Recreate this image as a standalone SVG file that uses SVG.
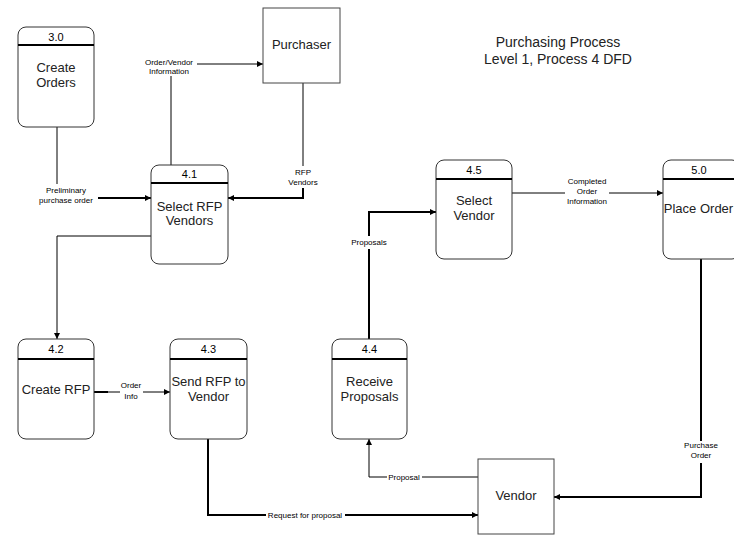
<svg xmlns="http://www.w3.org/2000/svg" width="734" height="535" viewBox="0 0 734 535">
  <style>
    .proc { fill: #ffffff; stroke: #333333; stroke-width: 1; }
    .ext { fill: #ffffff; stroke: #444444; stroke-width: 1; }
    .div { stroke: #000000; stroke-width: 2; }
    .id { font-family: "Liberation Sans", Arial, sans-serif; font-size: 11px; fill: #000; text-anchor: middle; }
    .name { font-family: "Liberation Sans", Arial, sans-serif; font-size: 13px; fill: #222; text-anchor: middle; }
    .title { font-family: "Liberation Sans", Arial, sans-serif; font-size: 14px; fill: #222; text-anchor: middle; }
    .lbl { font-family: "Liberation Sans", Arial, sans-serif; font-size: 8px; fill: #000; text-anchor: middle; }
    .flow { fill: none; stroke: #000; stroke-width: 1; }
    .thick { fill: none; stroke: #000; stroke-width: 2; }
  </style>
  <defs>
    <marker id="arrow" viewBox="0 0 10 10" refX="10" refY="5" markerWidth="8" markerHeight="6" markerUnits="userSpaceOnUse" orient="auto">
      <path d="M0,0 L10,5 L0,10 z" fill="#000"/>
    </marker>
  </defs>
  <rect width="734" height="535" fill="#ffffff"/>

  <text class="title" x="558" y="47">Purchasing Process</text>
  <text class="title" x="558" y="64">Level 1, Process 4 DFD</text>

  <!-- Data flows -->
  <g id="connectors">
    <!-- 3.0 -> 4.1 -->
    <path class="flow" d="M57,127 V184"/>
    <path class="thick" d="M98,198 H151" marker-end="url(#arrow)"/>
    <text class="lbl" x="66" y="193">Preliminary</text>
    <text class="lbl" x="66" y="203">purchase order</text>

    <!-- 4.1 -> Purchaser -->
    <path class="flow" d="M171,165 V76"/>
    <path class="flow" d="M197,64 H263" marker-end="url(#arrow)"/>
    <text class="lbl" x="169" y="65">Order/Vendor</text>
    <text class="lbl" x="169" y="74">Information</text>

    <!-- Purchaser -> 4.1 -->
    <path class="flow" stroke="#555" d="M303,83 V166"/>
    <path class="thick" d="M303,188 V198 H228" marker-end="url(#arrow)"/>
    <text class="lbl" x="303" y="175">RFP</text>
    <text class="lbl" x="303" y="185">Vendors</text>

    <!-- 4.1 -> 4.2 -->
    <path class="flow" d="M151,236 H57 V339" marker-end="url(#arrow)"/>

    <!-- 4.2 -> 4.3 -->
    <path class="thick" d="M94,392 H108"/>
    <path class="flow" d="M108,392 H120"/>
    <path class="flow" d="M143,392 H170" marker-end="url(#arrow)"/>
    <text class="lbl" x="131" y="388">Order</text>
    <text class="lbl" x="131" y="399">Info</text>

    <!-- 4.3 -> Vendor -->
    <path class="thick" d="M208,439 V515 H266"/>
    <path class="thick" d="M345,515 H478" marker-end="url(#arrow)"/>
    <text class="lbl" x="305" y="518">Request for proposal</text>

    <!-- Vendor -> 4.4 -->
    <path class="flow" stroke-width="1.5" d="M478,477 H422"/>
    <path class="flow" stroke-width="1.5" d="M387,477 H369 V439" marker-end="url(#arrow)"/>
    <text class="lbl" x="404" y="480">Proposal</text>

    <!-- 4.4 -> 4.5 -->
    <path class="thick" d="M369,339 V249"/>
    <path class="thick" d="M369,236 V212 H436" marker-end="url(#arrow)"/>
    <text class="lbl" x="369" y="245">Proposals</text>

    <!-- 4.5 -> 5.0 -->
    <path class="flow" d="M512,193 H565"/>
    <path class="flow" d="M609,193 H663" marker-end="url(#arrow)"/>
    <text class="lbl" x="587" y="184">Completed</text>
    <text class="lbl" x="587" y="194">Order</text>
    <text class="lbl" x="587" y="204">Information</text>

    <!-- 5.0 -> Vendor -->
    <path class="thick" d="M701,259 V441"/>
    <path class="thick" d="M701,463 V497 H554" marker-end="url(#arrow)"/>
    <text class="lbl" x="701" y="448">Purchase</text>
    <text class="lbl" x="701" y="458">Order</text>
  </g>

  <!-- Processes -->
  <g id="p3_0">
    <rect class="proc" x="18" y="27" width="76" height="100" rx="8"/>
    <line class="div" x1="18" y1="45" x2="94" y2="45"/>
    <text class="id" x="56" y="41">3.0</text>
    <text class="name" x="56" y="72">Create</text>
    <text class="name" x="56" y="87">Orders</text>
  </g>
  <g id="p4_1">
    <rect class="proc" x="151" y="165" width="77" height="99" rx="8"/>
    <line class="div" x1="151" y1="183" x2="228" y2="183"/>
    <text class="id" x="189.5" y="178">4.1</text>
    <text class="name" x="189.5" y="211">Select RFP</text>
    <text class="name" x="189.5" y="225">Vendors</text>
  </g>
  <g id="p4_2">
    <rect class="proc" x="18" y="339" width="76" height="100" rx="8"/>
    <line class="div" x1="18" y1="359" x2="94" y2="359"/>
    <text class="id" x="56" y="353">4.2</text>
    <text class="name" x="56" y="394">Create RFP</text>
  </g>
  <g id="p4_3">
    <rect class="proc" x="170" y="339" width="77" height="100" rx="8"/>
    <line class="div" x1="170" y1="359" x2="247" y2="359"/>
    <text class="id" x="208.5" y="353">4.3</text>
    <text class="name" x="208.5" y="386">Send RFP to</text>
    <text class="name" x="208.5" y="401">Vendor</text>
  </g>
  <g id="p4_4">
    <rect class="proc" x="332" y="339" width="75" height="100" rx="8"/>
    <line class="div" x1="332" y1="359" x2="407" y2="359"/>
    <text class="id" x="369.5" y="353">4.4</text>
    <text class="name" x="369.5" y="386">Receive</text>
    <text class="name" x="369.5" y="401">Proposals</text>
  </g>
  <g id="p4_5">
    <rect class="proc" x="436" y="160" width="76" height="99" rx="8"/>
    <line class="div" x1="436" y1="179" x2="512" y2="179"/>
    <text class="id" x="474" y="174">4.5</text>
    <text class="name" x="474" y="205">Select</text>
    <text class="name" x="474" y="220">Vendor</text>
  </g>
  <g id="p5_0">
    <rect class="proc" x="663" y="160" width="77" height="99" rx="8"/>
    <line class="div" x1="663" y1="179" x2="740" y2="179"/>
    <text class="id" x="699" y="174">5.0</text>
    <text class="name" x="698.5" y="213">Place Order</text>
  </g>

  <!-- External entities -->
  <g id="purchaser">
    <rect class="ext" x="263" y="8" width="77" height="75"/>
    <text class="name" x="301.5" y="49">Purchaser</text>
  </g>
  <g id="vendor">
    <rect class="ext" x="478" y="459" width="76" height="75"/>
    <text class="name" x="516" y="500">Vendor</text>
  </g>
</svg>
